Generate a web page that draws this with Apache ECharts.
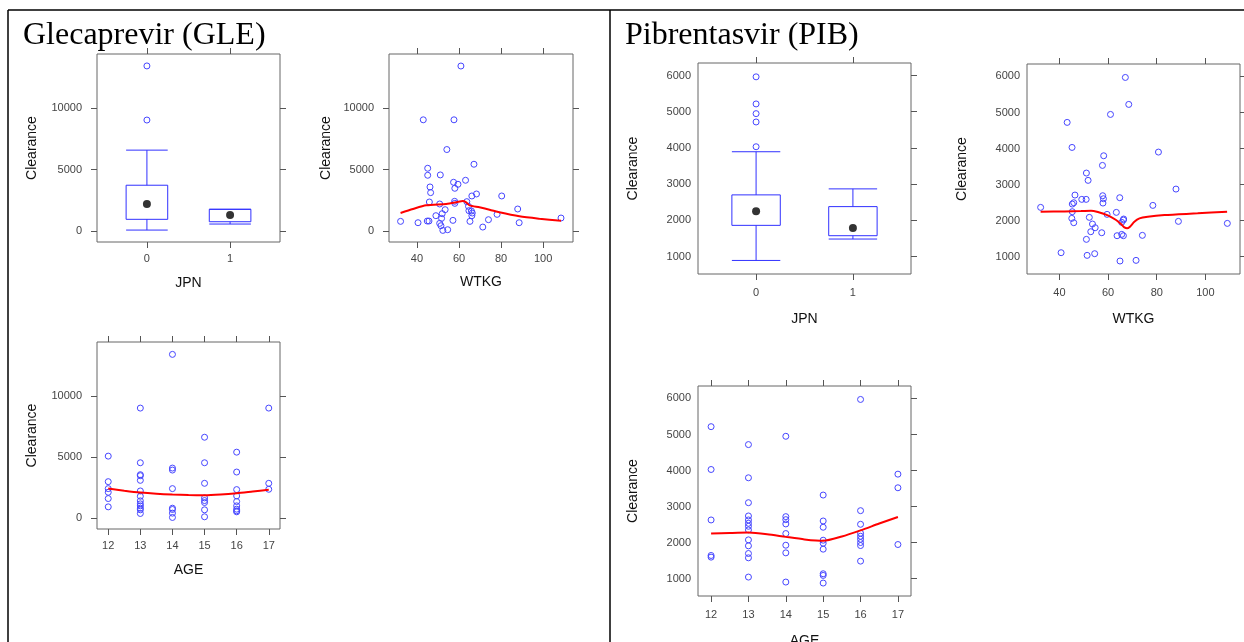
<!DOCTYPE html>
<html><head><meta charset="utf-8">
<script src="https://cdn.jsdelivr.net/npm/echarts@6/dist/echarts.min.js"></script>
<style>html,body{margin:0;padding:0;background:#fff}#c{width:1244px;height:642px}</style>
</head><body><div id="c"></div>
<script>
// ---------- DATA ----------
const titles = ['Glecaprevir (GLE)', 'Pibrentasvir (PIB)'];
const yName = 'Clearance';
const xNames = ['JPN', 'WTKG', 'AGE'];

const jpnTicks = [0, 1];
const wtkgTicks = [40, 60, 80, 100];
const ageTicks = [12, 13, 14, 15, 16, 17];
const gleYTicks = [0, 5000, 10000];
const pibYTicks = [1000, 2000, 3000, 4000, 5000, 6000];

// box stats: [group, lowerWhisker, Q1, median, Q3, upperWhisker]
const gleJpnBox = [[0, 80, 954, 2202, 3727, 6582], [1, 571, 759, 1305, 1770, 1770]];
const gleJpnOut = [[0, 13430], [0, 9029]];
const pibJpnBox = [[0, 894, 1863, 2251, 2704, 3895], [1, 1485, 1577, 1790, 2380, 2870]];
const pibJpnOut = [[0, 5963], [0, 5215], [0, 4947], [0, 4717], [0, 4033]];

const gleWtkg = [[60.9,13422],[43.0,9048],[57.6,9048],[54.2,6630],[67.1,5434],[45.1,5108],[45.1,4537],[51.1,4565],[63.1,4130],[57.4,3967],[59.5,3804],[46.2,3586],[58.0,3478],[46.5,3125],[68.3,3016],[66.1,2853],[80.3,2853],[45.9,2364],[57.9,2418],[58.0,2255],[63.7,2391],[50.8,2201],[64.5,2011],[87.9,1793],[53.4,1739],[64.7,1657],[65.9,1630],[66.3,1467],[52.0,1413],[78.1,1359],[49.0,1250],[66.1,1250],[51.7,1032],[108.5,1060],[74.0,924],[57.1,869],[32.2,788],[44.9,815],[45.7,815],[65.2,788],[40.5,679],[88.6,679],[50.8,625],[51.4,435],[71.3,326],[54.6,109],[52.3,54]];
const gleWtkgFit = [[32.2,1467],[38.1,1793],[44.4,2092],[53.9,2201],[58.7,2337],[61.8,2445],[63.4,2337],[65.0,2092],[69.7,1929],[74.5,1739],[79.2,1522],[88.7,1196],[98.2,1005],[108.5,842]];

const gleAge = [[12,5068],[12,2981],[12,2412],[12,2114],[12,1599],[12,921],
 [13,8997],[13,4526],[13,3550],[13,3469],[13,3089],[13,2222],[13,1789],[13,1409],[13,1165],[13,1003],[13,813],[13,678],[13,379],
 [14,13387],[14,4092],[14,3930],[14,2412],[14,813],[14,705],[14,407],[14,54],
 [15,6612],[15,4526],[15,2845],[15,1653],[15,1436],[15,1274],[15,678],[15,108],
 [16,5393],[16,3767],[16,2331],[16,1816],[16,1355],[16,1003],[16,732],[16,596],[16,515],
 [17,8997],[17,2845],[17,2358]];
const gleAgeFit = [[12,2412],[12.5,2240],[13,2090],[13.5,1990],[14,1925],[14.5,1885],[15,1875],[15.5,1930],[16,2030],[16.5,2170],[17,2310]];

const pibWtkg = [[67.1,5972],[68.5,5224],[61.0,4946],[43.2,4725],[45.2,4031],[80.7,3902],[58.2,3800],[57.7,3532],[51.1,3320],[51.8,3117],[87.9,2876],[46.4,2710],[57.8,2691],[64.8,2636],[58.1,2608],[49.2,2590],[51.0,2590],[45.9,2497],[45.3,2460],[57.9,2488],[78.4,2423],[32.3,2368],[45.3,2248],[63.4,2229],[59.6,2174],[52.3,2091],[45.1,2063],[66.4,2045],[66.3,2017],[88.9,1980],[65.6,1952],[45.9,1943],[109.0,1924],[53.6,1906],[54.7,1804],[52.9,1693],[57.4,1665],[63.7,1582],[74.1,1592],[65.6,1619],[66.3,1582],[51.1,1481],[40.7,1111],[51.4,1037],[54.5,1083],[64.9,880],[71.5,898]];
const pibWtkgFit = [[32.3,2248],[42.1,2257],[48.9,2266],[53.0,2275],[55.8,2238],[59.9,2146],[63.3,2017],[65.3,1906],[66.7,1813],[67.8,1786],[69.0,1832],[70.8,1970],[72.9,2063],[76.3,2109],[83.2,2155],[96.8,2202],[108.9,2248]];

const pibAge = [[12,5217],[12,4029],[12,2629],[12,1644],[12,1598],
 [13,4720],[13,3799],[13,3108],[13,2740],[13,2629],[13,2537],[13,2454],[13,2353],[13,2077],[13,1911],[13,1699],[13,1579],[13,1045],
 [14,4950],[14,2721],[14,2638],[14,2519],[14,2252],[14,1929],[14,1717],[14,907],
 [15,3320],[15,2601],[15,2427],[15,2068],[15,1985],[15,1819],[15,1137],[15,1091],[15,879],
 [16,5972],[16,2887],[16,2509],[16,2261],[16,2178],[16,2095],[16,2003],[16,1920],[16,1487],
 [17,3900],[17,3522],[17,1948]];
const pibAgeFit = [[12,2252],[12.5,2268],[13,2279],[13.5,2235],[14,2160],[14.5,2090],[15,2050],[15.5,2170],[16,2340],[16.5,2530],[17,2712]];

// ---------- LAYOUT / STYLE ----------
const BLUE = '#4646ff';
const TICK = '#555';
const LABEL = '#444';
const SANS = '"Liberation Sans", Arial, sans-serif';
const SERIF = '"Liberation Serif", "Times New Roman", serif';
const gleY = [-890, 14400];
const pibY = [520, 6345];
const jpnX = [-0.6, 1.6];
const wtX = [26.7, 114.2];
const ageX = [11.65, 17.35];

const panels = [
  {rect:[97,54,183,188],  xr:jpnX, yr:gleY, xt:jpnTicks,  yt:gleYTicks, xn:xNames[0], leftTick:true,  xGap:34, yGap:58, yMargin:15, xMargin:11},
  {rect:[389,54,184,188], xr:wtX,  yr:gleY, xt:wtkgTicks, yt:gleYTicks, xn:xNames[1], leftTick:true,  xGap:33, yGap:56, yMargin:15, xMargin:11},
  {rect:[97,342,183,187], xr:ageX, yr:gleY, xt:ageTicks,  yt:gleYTicks, xn:xNames[2], leftTick:true,  xGap:34, yGap:58, yMargin:15, xMargin:11},
  {rect:[698,63,213,211], xr:jpnX, yr:pibY, xt:jpnTicks,  yt:pibYTicks, xn:xNames[0], leftTick:false, xGap:38, yGap:58, yMargin:7,  xMargin:13},
  {rect:[1027,64,213,210],xr:wtX,  yr:pibY, xt:wtkgTicks, yt:pibYTicks, xn:xNames[1], leftTick:false, xGap:38, yGap:58, yMargin:7,  xMargin:13},
  {rect:[698,386,213,210],xr:ageX, yr:pibY, xt:ageTicks,  yt:pibYTicks, xn:xNames[2], leftTick:false, xGap:38, yGap:58, yMargin:7,  xMargin:13}
];

const plain = v => String(v);
const grid = [], xAxis = [], yAxis = [], series = [];
panels.forEach((p, gi) => {
  grid.push({left:p.rect[0], top:p.rect[1], width:p.rect[2], height:p.rect[3], outerBoundsMode:'none', containLabel:false,
    show:true, borderColor:'#666', borderWidth:1, backgroundColor:'transparent'});
  const common = () => ({gridIndex:gi, type:'value', axisLine:{show:false, onZero:false}, splitLine:{show:false}});
  xAxis.push(Object.assign(common(), {position:'bottom', min:p.xr[0], max:p.xr[1],
    name:p.xn, nameLocation:'middle', nameGap:p.xGap, nameTextStyle:{fontSize:14, color:'#111', fontFamily:SANS},
    axisTick:{show:true, length:6, customValues:p.xt, lineStyle:{color:TICK}},
    axisLabel:{show:true, customValues:p.xt, formatter:plain, margin:p.xMargin, fontSize:11, color:LABEL, fontFamily:SANS}}));
  xAxis.push(Object.assign(common(), {position:'top', min:p.xr[0], max:p.xr[1],
    axisTick:{show:true, length:6, customValues:p.xt, lineStyle:{color:TICK}}, axisLabel:{show:false}}));
  yAxis.push(Object.assign(common(), {position:'left', min:p.yr[0], max:p.yr[1],
    name:yName, nameLocation:'middle', nameGap:p.yGap, nameRotate:90, nameTextStyle:{fontSize:14, color:'#111', fontFamily:SANS},
    axisTick:{show:p.leftTick, length:6, customValues:p.yt, lineStyle:{color:TICK}},
    axisLabel:{show:true, customValues:p.yt, formatter:plain, margin:p.yMargin, fontSize:11, color:LABEL, fontFamily:SANS}}));
  yAxis.push(Object.assign(common(), {position:'right', min:p.yr[0], max:p.yr[1],
    axisTick:{show:true, length:6, customValues:p.yt, lineStyle:{color:TICK}}, axisLabel:{show:false}}));
});

function scatter(ai, data) {
  return {type:'scatter', xAxisIndex:ai*2, yAxisIndex:ai*2, data:data, symbol:'circle', symbolSize:6,
    itemStyle:{color:'rgba(0,0,0,0)', borderColor:BLUE, borderWidth:1, opacity:1}, silent:true, z:3};
}
function fit(ai, data) {
  return {type:'line', xAxisIndex:ai*2, yAxisIndex:ai*2, data:data, showSymbol:false, smooth:0.25,
    lineStyle:{color:'#ff0000', width:2}, silent:true, z:4};
}
function boxes(ai, data) {
  return {type:'custom', xAxisIndex:ai*2, yAxisIndex:ai*2, data:data, silent:true, z:2,
    encode:{x:0, y:[1,2,3,4,5]},
    renderItem:function(params, api) {
      const x = api.value(0), lo = api.value(1), q1 = api.value(2), q3 = api.value(4), hi = api.value(5);
      const hw = 0.25;
      const a = api.coord([x - hw, q3]), b = api.coord([x + hw, q1]);
      const c = api.coord([x, q1]);
      const yLo = api.coord([x, lo])[1], yHi = api.coord([x, hi])[1];
      const st = {stroke:'#3030ff', fill:null, lineWidth:1};
      return {type:'group', children:[
        {type:'rect', shape:{x:a[0], y:a[1], width:b[0]-a[0], height:b[1]-a[1]}, style:st},
        {type:'line', shape:{x1:c[0], y1:a[1], x2:c[0], y2:yHi}, style:st},
        {type:'line', shape:{x1:c[0], y1:b[1], x2:c[0], y2:yLo}, style:st},
        {type:'line', shape:{x1:a[0], y1:yHi, x2:b[0], y2:yHi}, style:st},
        {type:'line', shape:{x1:a[0], y1:yLo, x2:b[0], y2:yLo}, style:st}
      ]};
    }};
}
function medians(ai, data) {
  return {type:'scatter', xAxisIndex:ai*2, yAxisIndex:ai*2, data:data.map(d => [d[0], d[3]]),
    symbol:'circle', symbolSize:8, itemStyle:{color:'#000'}, silent:true, z:5};
}

series.push(boxes(0, gleJpnBox), medians(0, gleJpnBox), scatter(0, gleJpnOut));
series.push(scatter(1, gleWtkg), fit(1, gleWtkgFit));
series.push(scatter(2, gleAge), fit(2, gleAgeFit));
series.push(boxes(3, pibJpnBox), medians(3, pibJpnBox), scatter(3, pibJpnOut));
series.push(scatter(4, pibWtkg), fit(4, pibWtkgFit));
series.push(scatter(5, pibAge), fit(5, pibAgeFit));

const chart = echarts.init(document.getElementById('c'), null, {renderer:'canvas'});
chart.setOption({
  animation:false,
  backgroundColor:'#fff',
  title:[
    {text:titles[0], left:18, top:14, textStyle:{fontFamily:SERIF, fontSize:32, fontWeight:'normal', color:'#000', lineHeight:34}},
    {text:titles[1], left:620, top:14, textStyle:{fontFamily:SERIF, fontSize:32, fontWeight:'normal', color:'#000', lineHeight:34}}
  ],
  graphic:[
    {type:'line', shape:{x1:8, y1:10, x2:1244, y2:10}, style:{stroke:'#000', lineWidth:1.5}},
    {type:'line', shape:{x1:8, y1:10, x2:8, y2:642}, style:{stroke:'#000', lineWidth:1.5}},
    {type:'line', shape:{x1:610, y1:10, x2:610, y2:642}, style:{stroke:'#000', lineWidth:1.5}}
  ],
  grid:grid, xAxis:xAxis, yAxis:yAxis, series:series
});
</script></body></html>
